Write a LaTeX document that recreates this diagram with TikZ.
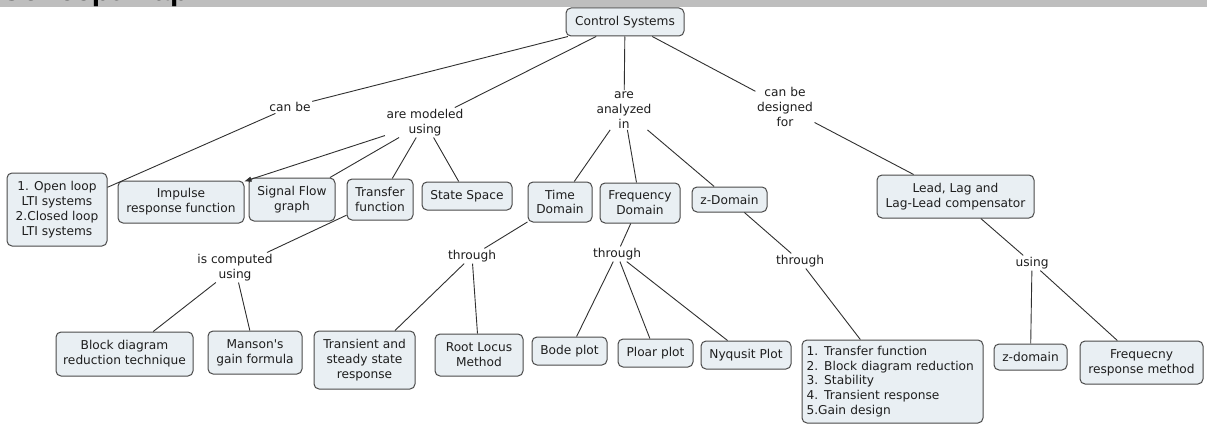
\documentclass[tikz,border=0pt]{standalone}
\usepackage{fontspec}
\setmainfont{DejaVu Sans}[Ligatures=TeXOff]
\newfontfamily\hdrfont{Liberation Sans}
\usetikzlibrary{arrows.meta}
\definecolor{boxfill}{HTML}{E9EFF3}
\definecolor{boxline}{HTML}{4A4A4A}
\definecolor{txt}{HTML}{1E1E1E}
\definecolor{linec}{HTML}{303030}
\definecolor{band}{HTML}{BEBEBE}
\tikzset{
  cbox/.style={draw=boxline, fill=boxfill, line width=1pt, rounded corners=5pt,
    font=\fontsize{12.2}{14.8}\selectfont, text=txt, align=center, inner sep=1pt},
  lbl/.style={font=\fontsize{12.2}{14.8}\selectfont, text=txt, align=center, inner sep=1.5pt},
  conn/.style={draw=linec, line width=0.9pt},
  arr/.style={conn, -{Triangle[length=7pt,width=5pt]}}
}
\begin{document}
\begin{tikzpicture}[x=1pt,y=-1pt]
\useasboundingbox (0,0) rectangle (1207,425);
\fill[white] (0,0) rectangle (1207,425);
% header band
\fill[band] (0,0) rectangle (1207,7);
\begin{scope}
\clip (0,0) rectangle (1207,7);
\node[anchor=base west, inner sep=0pt, font=\hdrfont\bfseries\fontsize{30}{30}\selectfont, text=black] (hdr) at (0,0.5) {Concept Map};
\end{scope}

% concept boxes
\node[cbox, minimum width=118pt, minimum height=28pt] (cs) at (625,22) {Control Systems};
\node[cbox, minimum width=100pt, minimum height=73pt] (open) at (57,209.5) {1. Open loop\\LTI systems\\2.Closed loop\\LTI systems};
\node[cbox, minimum width=126pt, minimum height=42pt] (imp) at (181,202) {Impulse\\response function};
\node[cbox, minimum width=86pt, minimum height=43pt] (sfg) at (292,199.5) {Signal Flow\\graph};
\node[cbox, minimum width=66pt, minimum height=41pt] (tf) at (380,199.5) {Transfer\\function};
\node[cbox, minimum width=90pt, minimum height=28pt] (ss) at (467,196) {State Space};
\node[cbox, minimum width=64pt, minimum height=40pt] (td) at (560,202) {Time\\Domain};
\node[cbox, minimum width=80pt, minimum height=40pt] (fd) at (640,203) {Frequency\\Domain};
\node[cbox, minimum width=75pt, minimum height=25pt] (zd) at (729.5,199.5) {z-Domain};
\node[cbox, minimum width=157pt, minimum height=43pt] (lead) at (955.5,196.5) {Lead, Lag and\\Lag-Lead compensator};
\node[cbox, minimum width=137pt, minimum height=44pt] (bd) at (124.5,354) {Block diagram\\reduction technique};
\node[cbox, minimum width=94pt, minimum height=43pt] (mg) at (255,352.5) {Manson's\\gain formula};
\node[cbox, minimum width=101pt, minimum height=58pt] (tr) at (364.5,360) {Transient and\\steady state\\response};
\node[cbox, minimum width=88pt, minimum height=42pt] (rl) at (479,355) {Root Locus\\Method};
\node[cbox, minimum width=75pt, minimum height=28pt] (bode) at (569.5,351) {Bode plot};
\node[cbox, minimum width=75pt, minimum height=28pt] (ploar) at (655.5,353) {Ploar plot};
\node[cbox, minimum width=90pt, minimum height=28pt] (nyq) at (746,355) {Nyqusit Plot};
\node[cbox, minimum width=181pt, minimum height=83pt, align=left, text width=172pt] (list) at (892.5,381.5) {1. Transfer function\\2. Block diagram reduction\\3. Stability\\4. Transient response\\5.Gain design};
\node[cbox, minimum width=73pt, minimum height=26pt] (zdom) at (1030.5,357) {z-domain};
\node[cbox, minimum width=123pt, minimum height=43pt] (freq) at (1141.5,362.5) {Frequecny\\response method};

% linking phrases
\node[lbl] (lcanbe) at (290,107) {can be};
\node[lbl] (lmodel) at (425,122.5) {are modeled\\using};
\node[lbl] (lanal) at (624,110) {are\\analyzed\\in};
\node[lbl] (ldesign) at (785,107) {can be\\designed\\for};
\node[lbl] (lcomp) at (235,267.5) {is computed\\using};
\node[lbl] (lth1) at (472,256) {through};
\node[lbl] (lth2) at (617,254) {through};
\node[lbl] (lth3) at (800,261) {through};
\node[lbl] (lusing) at (1032,263) {using};

% connectors
\draw[conn] (cs) -- (lcanbe);
\draw[conn] (lcanbe) -- (open);
\draw[conn] (cs) -- (lmodel);
\draw[arr] (lmodel) -- (imp);
\draw[conn] (lmodel) -- (sfg);
\draw[conn] (lmodel) -- (tf);
\draw[conn] (lmodel) -- (ss);
\draw[conn] (cs) -- (lanal);
\draw[conn] (lanal) -- (td);
\draw[conn] (lanal) -- (fd);
\draw[conn] (lanal) -- (zd);
\draw[conn] (cs) -- (ldesign);
\draw[conn] (ldesign) -- (lead);
\draw[conn] (tf) -- (lcomp);
\draw[conn] (lcomp) -- (bd);
\draw[conn] (lcomp) -- (mg);
\draw[conn] (td) -- (lth1);
\draw[conn] (lth1) -- (tr);
\draw[conn] (lth1) -- (rl);
\draw[conn] (fd) -- (lth2);
\draw[conn] (lth2) -- (bode);
\draw[conn] (lth2) -- (ploar);
\draw[conn] (lth2) -- (nyq);
\draw[conn] (zd) -- (lth3);
\draw[conn] (lth3) -- (list);
\draw[conn] (lead) -- (lusing);
\draw[conn] (lusing) -- (zdom);
\draw[conn] (lusing) -- (freq);
\end{tikzpicture}
\end{document}
